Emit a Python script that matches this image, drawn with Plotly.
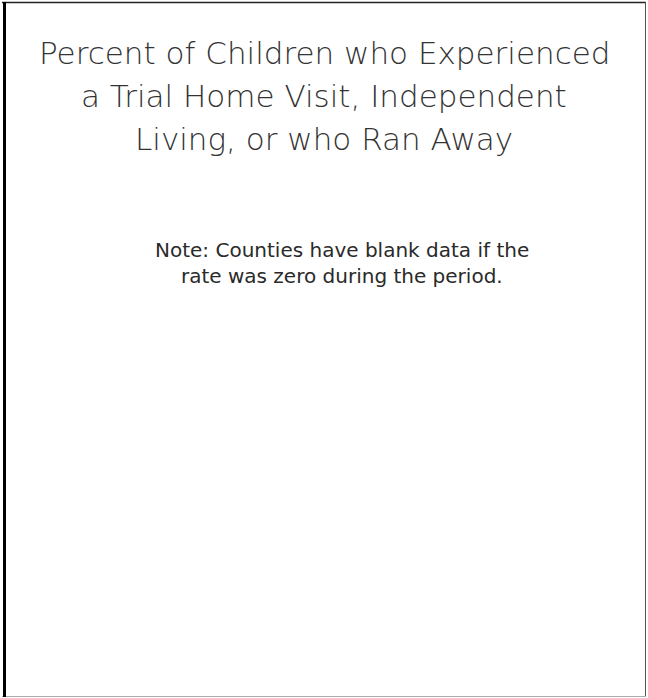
import plotly.graph_objects as go

# Text content (chart has no data marks, only title and note)
title_lines = [
    "Percent of Children who Experienced",
    "a Trial Home Visit, Independent",
    "Living, or who Ran Away",
]
note_lines = [
    "Note: Counties have blank data if the",
    "rate was zero during the period.",
]

W, H = 648, 698

fig = go.Figure()

annotations = []
for i, line in enumerate(title_lines):
    annotations.append(dict(
        x=324, y=H - (53 + 43 * i), xref="x", yref="y",
        text=line, showarrow=False, xanchor="center", yanchor="middle",
        font=dict(family="DejaVu Sans", size=31, color="#333333", weight=200),
    ))
for i, line in enumerate(note_lines):
    annotations.append(dict(
        x=342, y=H - (250 + 26 * i), xref="x", yref="y",
        text=line, showarrow=False, xanchor="center", yanchor="middle",
        font=dict(family="DejaVu Sans", size=20, color="#2a2a2a"),
    ))

shapes = [
    # outer border
    dict(type="line", x0=2, x1=646, y0=H - 2.5, y1=H - 2.5, xref="x", yref="y",
         line=dict(color="#222222", width=1.5)),
    dict(type="line", x0=645.5, x1=645.5, y0=H - 2, y1=H - 697, xref="x", yref="y",
         line=dict(color="#555555", width=1)),
    dict(type="line", x0=2, x1=646, y0=H - 696.5, y1=H - 696.5, xref="x", yref="y",
         line=dict(color="#aaaaaa", width=1)),
    dict(type="line", x0=4.5, x1=4.5, y0=H - 2, y1=H - 697, xref="x", yref="y",
         line=dict(color="#000000", width=3)),
]

fig.update_layout(
    width=W, height=H,
    margin=dict(l=0, r=0, t=0, b=0),
    paper_bgcolor="white", plot_bgcolor="white",
    xaxis=dict(range=[0, W], visible=False, fixedrange=True),
    yaxis=dict(range=[0, H], visible=False, fixedrange=True),
    annotations=annotations,
    shapes=shapes,
    showlegend=False,
)

fig.write_html(
    "out.html",
    config=dict(displayModeBar=False),
    post_script="document.body.style.margin='0';document.body.style.overflow='hidden';",
)
